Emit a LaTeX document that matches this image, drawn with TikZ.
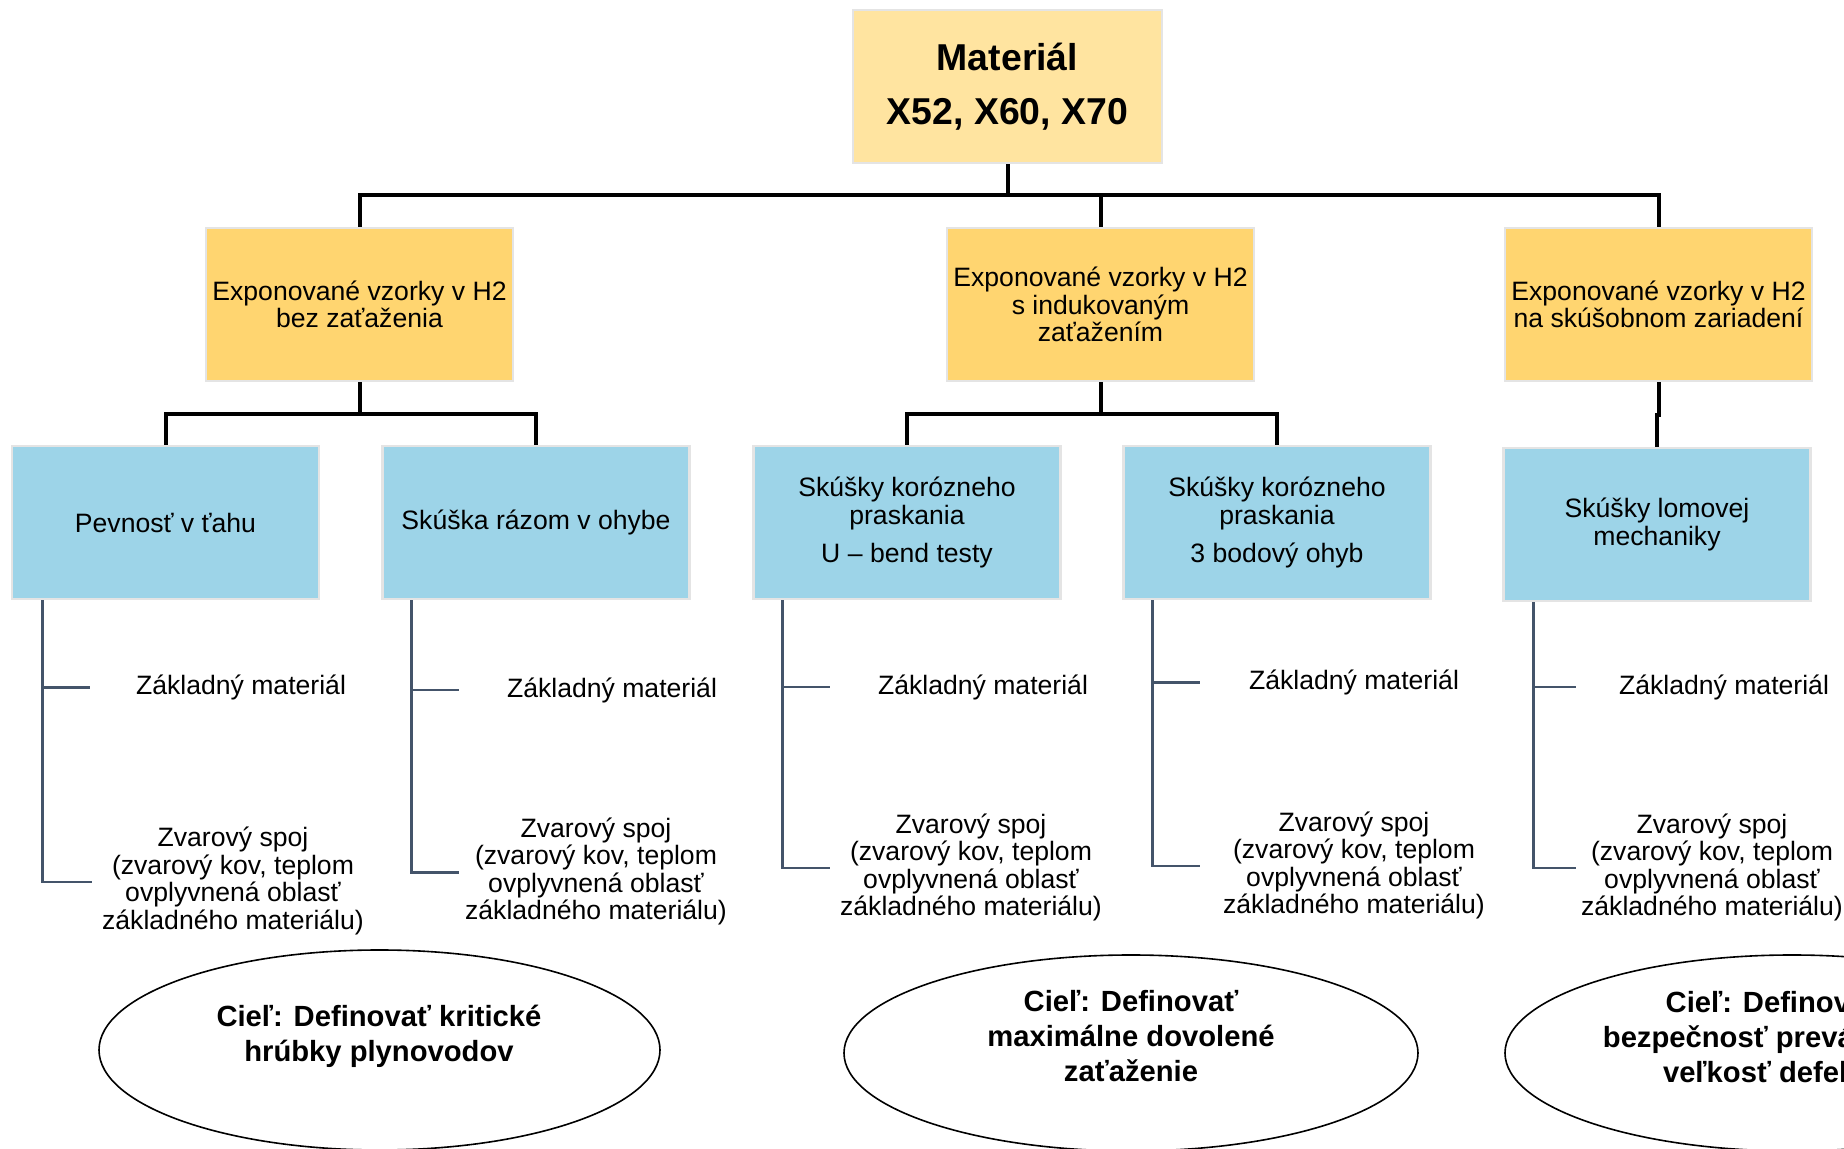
\documentclass[tikz,border=0pt]{standalone}
\usepackage{fontspec}
\setmainfont{Liberation Sans}
\usetikzlibrary{shapes.geometric}
\definecolor{topfill}{RGB}{255,228,160}
\definecolor{midfill}{RGB}{255,213,112}
\definecolor{lowfill}{RGB}{157,212,232}
\definecolor{boxline}{RGB}{228,228,228}
\definecolor{slate}{RGB}{68,84,106}
\newcommand\myfs{\fontsize{13.3}{13.8}\selectfont}
\newcommand\mybig{\fontsize{18.7}{27}\selectfont\bfseries}
\newcommand\mygoal{\fontsize{14.6}{17.6}\selectfont\bfseries}
\tikzset{
  box/.style={draw=boxline, line width=1.35pt, minimum width=153.5pt, minimum height=76.5pt, align=center, inner sep=1pt, font=\myfs},
  topbox/.style={box, fill=topfill, minimum width=154.5pt, font=\mybig},
  lvtwo/.style={box, fill=midfill},
  lvthree/.style={box, fill=lowfill},
  conn/.style={line width=2pt, black},
  branch/.style={line width=1.35pt, slate},
  lbl/.style={align=center, font=\myfs, inner sep=0pt},
  goal/.style={draw=black, line width=0.8pt, ellipse, inner sep=0pt},
  goaltxt/.style={align=center, font=\mygoal, inner sep=0pt}
}
\begin{document}
\begin{tikzpicture}[x=0.5pt,y=-0.5pt]
\useasboundingbox (0,0) rectangle (1844,1149);
\clip (0,0) rectangle (1844,1149);
\fill[white] (0,0) rectangle (1844,1149);

% boxes
\node[topbox] (top) at (1007.5,86.5) {Materiál\\X52, X60, X70};
\node[lvtwo] (A) at (359.5,304.5) {Exponované vzorky v H2\\bez zaťaženia};
\node[lvtwo] (B) at (1100.5,304.5) {Exponované vzorky v H2\\s indukovaným\\zaťažením};
\node[lvtwo] (C) at (1658.5,304.5) {Exponované vzorky v H2\\na skúšobnom zariadení};
\node[lvthree] (D) at (165.5,522.5) {Pevnosť v ťahu};
\node[lvthree] (E) at (536,522.5) {Skúška rázom v ohybe};
\node[lvthree] (F) at (907,522.5) {Skúšky korózneho\\praskania\\[5pt]U – bend testy};
\node[lvthree] (G) at (1277,522.5) {Skúšky korózneho\\praskania\\[5pt]3 bodový ohyb};
\node[lvthree] (H) at (1657,524.5) {Skúšky lomovej\\mechaniky};

% tree connectors
\coordinate (bus0) at (1007.5,195);
\coordinate (busA) at (359.5,414);
\coordinate (busB) at (1100.5,414);
\draw[conn] (top.south) -- (bus0);
\draw[conn] (bus0) -| (A.north);
\draw[conn] (bus0) -| (B.north);
\draw[conn] (bus0) -| (C.north);
\draw[conn] (A.south) -- (busA);
\draw[conn] (busA) -| (D.north);
\draw[conn] (busA) -| (E.north);
\draw[conn] (B.south) -- (busB);
\draw[conn] (busB) -| (F.north);
\draw[conn] (busB) -| (G.north);
\draw[conn] (C.south) -- ++(0,33) -| (H.north);

% branch coordinates
\coordinate (dz) at (90,687.5);   \coordinate (dw) at (92,882);
\coordinate (ez) at (459,690);    \coordinate (ew) at (459,872.5);
\coordinate (fz) at (830,687);    \coordinate (fw) at (830,868);
\coordinate (gz) at (1200,682.5); \coordinate (gw) at (1200,866);
\coordinate (hz) at (1576,687);   \coordinate (hw) at (1576,868);

\draw[branch] ([xshift=15.75pt]D.south west) |- (dz);
\draw[branch] ([xshift=15.75pt]D.south west) |- (dw);
\draw[branch] ([xshift=15.25pt]E.south west) |- (ez);
\draw[branch] ([xshift=15.25pt]E.south west) |- (ew);
\draw[branch] ([xshift=15pt]F.south west) |- (fz);
\draw[branch] ([xshift=15pt]F.south west) |- (fw);
\draw[branch] ([xshift=15.25pt]G.south west) |- (gz);
\draw[branch] ([xshift=15.25pt]G.south west) |- (gw);
\draw[branch] ([xshift=15.5pt]H.south west) |- (hz);
\draw[branch] ([xshift=15.5pt]H.south west) |- (hw);

% labels
\node[lbl] (dzl) at (241,687) {Základný materiál};
\node[lbl] (dwl) at (233,881) {Zvarový spoj\\(zvarový kov, teplom\\ovplyvnená oblasť\\základného materiálu)};
\node[lbl] (ezl) at (612,690) {Základný materiál};
\node[lbl] (ewl) at (596,871.5) {Zvarový spoj\\(zvarový kov, teplom\\ovplyvnená oblasť\\základného materiálu)};
\node[lbl] (fzl) at (983,687) {Základný materiál};
\node[lbl] (fwl) at (971,867.5) {Zvarový spoj\\(zvarový kov, teplom\\ovplyvnená oblasť\\základného materiálu)};
\node[lbl] (gzl) at (1354,682) {Základný materiál};
\node[lbl] (gwl) at (1354,865.5) {Zvarový spoj\\(zvarový kov, teplom\\ovplyvnená oblasť\\základného materiálu)};
\node[lbl] (hzl) at (1724,687) {Základný materiál};
\node[lbl] (hwl) at (1712,867.5) {Zvarový spoj\\(zvarový kov, teplom\\ovplyvnená oblasť\\základného materiálu)};

% goals
\node[goal, minimum width=280.5pt, minimum height=100pt] (g1) at (379.5,1050) {};
\node[goal, minimum width=287pt, minimum height=98pt] (g2) at (1131,1053) {};
\node[goal, minimum width=287pt, minimum height=98pt] (g3) at (1792,1053) {};
\node[goaltxt] (t1) at (379,1036) {Cieľ: Definovať kritické\\hrúbky plynovodov};
\node[goaltxt] (t2) at (1131,1036) {Cieľ: Definovať\\maximálne dovolené\\zaťaženie};
\node[goaltxt] (t3) at (1773,1037) {Cieľ: Definovať\\bezpečnosť prevádzky a\\veľkosť defektu};
\end{tikzpicture}
\end{document}
